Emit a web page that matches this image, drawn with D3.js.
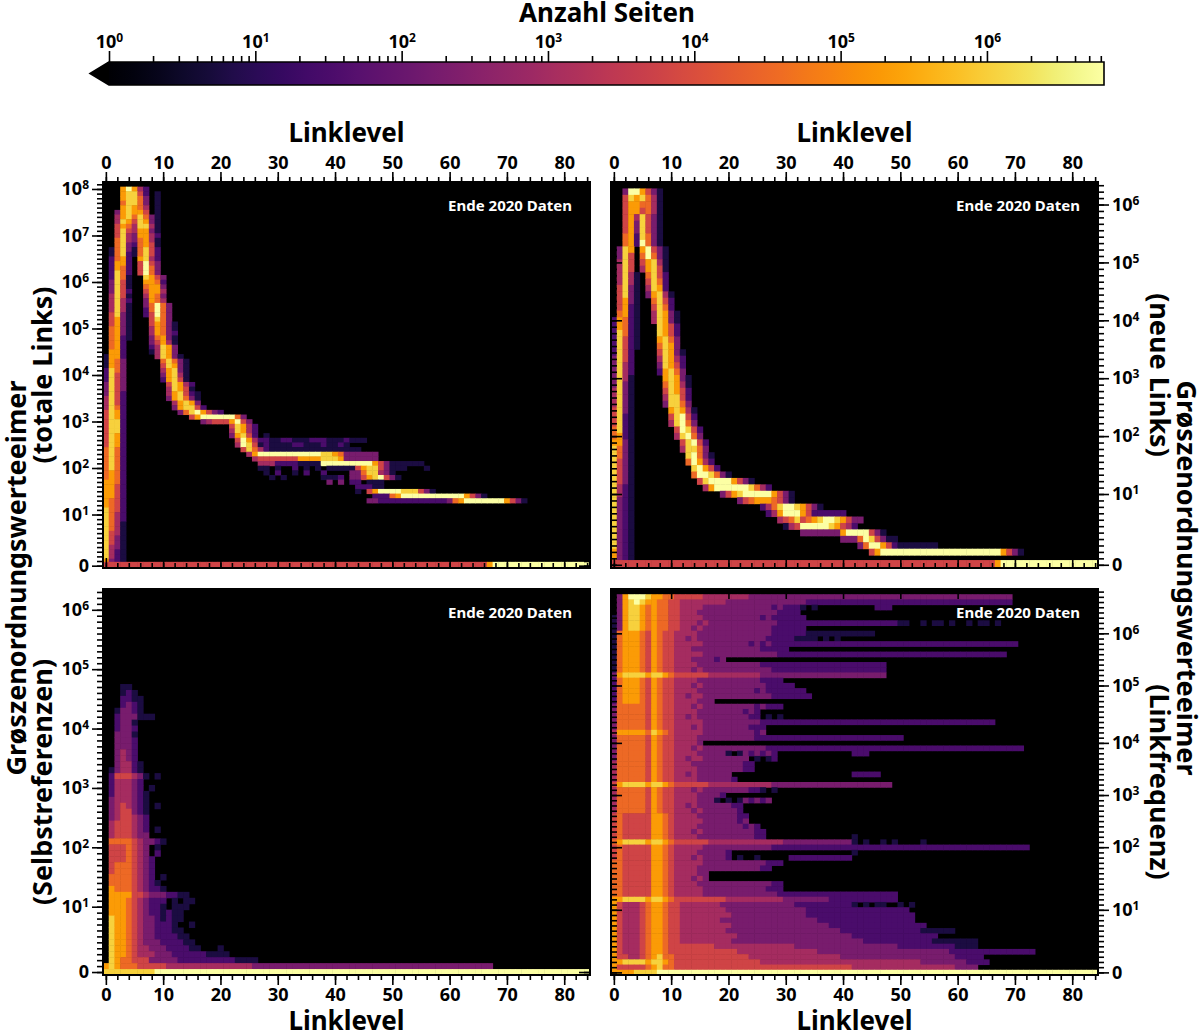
<!DOCTYPE html>
<html>
<head>
<meta charset="utf-8">
<script src="https://cdn.jsdelivr.net/npm/d3@7"></script>
<style>
  body { margin: 0; background: #fff; }
  svg text { font-family: "Noto Sans", "Open Sans", sans-serif; font-weight: 700; }
</style>
</head>
<body>
<svg id="chart" width="1201" height="1036"></svg>
<script>
// Each row string lists cells as "startColumn:levels", top row first.
// A level digit d stands for about 10^(d * 0.756) pages, "." is an empty cell,
// "d*n" is n cells of level d in a row.

const rowsTotal = [
  "",
  "3:79742",
  "3:78852 9:1",
  "3:78863 9:1",
  "3:68863 9:1",
  "3:78764 9:1",
  "2:378775 9:1",
  "2:47868631",
  "2:48758731",
  "2:57648841",
  "2:58547731",
  "2:58437742",
  "2:68436741",
  "2:68326751",
  "1:168316852",
  "1:168216852",
  "1:2672 6:7842",
  "1:2772 6:5953",
  "1:2762 6:5963",
  "1:2862 6:5963",
  "1:2861 7:8753",
  "1:3851 7:7762",
  "1:3851 7:6773",
  "1:3852 7:5774",
  "1:4851 7:4763",
  "1:4842 7:3764",
  "1:4841 7:36963",
  "1:4841 7:26963",
  "1:5831 7:25963",
  "1:5731 8:5863",
  "1:5731 8:57631",
  "1:6731 8:47631",
  "1:6731 8:47632",
  "1:6721 8:36731",
  "1:672 8:35741",
  "1:672 8:24873",
  "1:772 8:14873",
  "0:1772 9:48731",
  "0:1763 10:68631",
  "0:1763 10:58731",
  "0:2863 10:47831",
  "0:2853 10:37841",
  "0:2853 10:27851",
  "0:3853 11:58742",
  "0:3853 11:48751",
  "0:3852 11:478521",
  "0:4852 11:378631",
  "0:4852 12:47873",
  "0:4862 12:378852",
  "0:5872 13:36897532",
  "0:5872 15:5799999963",
  "0:5882 17:345557953",
  "0:5882 22:58742",
  "0:5882 22:48742",
  "0:5872 22:37852 28:1",
  "0:5872 23:5974 27:2211221112221112111",
  "0:5872 23:4985 27:1211112211121121",
  "0:6862 24:5864 28:21111111111111111",
  "0:6862 25:47 27:99999999999 38:8876 42:333333",
  "0:6862 26:4 27:5555555 34:7777 38:8887 42:333333",
  "0:6862 27:44422221111 38:999999999 47:753111111",
  "0:6862 27:11.1..2.1.1 39:11111 44:57885 49:3111 56:1",
  "0:6762 28:1.2..1.2 38:2 43:33688 48:431",
  "0:6762 29:1.1 38:1112.33 45:578953 51:1",
  "0:7762 39:3.3.22 46:111",
  "0:7752 44:22211",
  "0:7752 44:1.579999888 55:531",
  "0:7752 47:222 50:6799999999999 63:7531",
  "0:7652 46:33222222222222 60:36799999997531",
  "0:7652",
  "0:8652",
  "0:8642",
  "0:8642",
  "0:8641",
  "0:8641",
  "0:8541",
  "0:8531",
  "0:8531",
  "0:8431",
  "0:8421",
  "0:8421",
  "0:7321",
  "0:5*67 67:7 68:9*17"
];

const rowsNew = [
  "",
  "2:3997531",
  "2:5878641",
  "2:5776641",
  "2:5775641",
  "2:5748531",
  "2:5738531",
  "2:5738531",
  "2:6728631",
  "2:6729631",
  "1:387.79531",
  "1:385.69631",
  "1:485.57841",
  "1:485.47851",
  "1:4841.6852",
  "1:4841.5862",
  "1:5831.4872",
  "1:5831.37841",
  "1:5731..6852",
  "1:5721..5862",
  "1:6721..48731",
  "0:27621..48731",
  "0:27621...8752",
  "0:28621...8752",
  "0:28521...7863",
  "0:28521...6873",
  "0:2852....58731",
  "0:3852....48742",
  "0:3842....38752",
  "0:3842....27863",
  "0:3841.....78731",
  "0:3831.....68741",
  "0:4831.....58752",
  "0:4831.....48852",
  "0:4831.....38863",
  "0:5831......78741",
  "0:5821......58952",
  "0:5821......48963",
  "0:6821.......59852",
  "0:6721.......48963",
  "0:7731........58952",
  "0:8631........48863",
  "0:8631.........89631",
  "0:8531.........69742",
  "0:8531..........89752",
  "0:8531..........6998631",
  "0:8531...........5899997531",
  "0:8421 16:479999998642",
  "0:8421 19:3578999997531",
  "0:8321 22:3567776531",
  "0:8321 26:24689987531",
  "0:8321 27:24799975 35:222222",
  "0:8321 29:456856789987533",
  "0:8321 30:1459999987542",
  "0:8321 33:3333333 40:79999531",
  "0:8321 40:3336985311",
  "0:8321 43:3699752 50:1111111",
  "0:7321 45:57 47:9*21 68:7531",
  "0:7321",
  "0:5*67 67:7 68:9*17"
];

const rowsSelf = [
  "", "", "", "", "", "", "", "", "", "", "", "", "", "", "", "",
  "3:11",
  "3:121",
  "3:2211",
  "3:2321",
  "2:13321",
  "2:2333111",
  "2:2331",
  "2:2332",
  "2:3331",
  "2:3332",
  "2:3332",
  "2:3432",
  "2:3432",
  "2:3442 6:1",
  "1:134421",
  "1:2555431 9:1",
  "1:244432",
  "1:244432 8:1",
  "1:2444321",
  "1:3444321",
  "1:3454321 9:1",
  "1:3455321",
  "1:3455432",
  "1:4555432",
  "1:4555432 9:1",
  "1:4555433",
  "1:6666543321",
  "1:5556543 9:1",
  "1:5556543 9:2",
  "1:55565432",
  "1:56665432",
  "1:56665432",
  "1:66665432 10:1",
  "1:666654321",
  "1:7666543221",
  "1:77775543332211",
  "1:7776543222 12:1.11",
  "1:7776543221.111",
  "1:7776543221211",
  "1:8776543321211",
  "1:877654332221 15:1",
  "1:8776543322211",
  "1:87765433222211",
  "1:877654333222211",
  "1:8776544333222211 20:1",
  "1:877654443332222221111",
  "1:87665553333322222222221111",
  "0:78766655555 11:4*15 26:3*42",
  "0:8*9 9:9*76"
];

const rowsFreq = [
  "",
  "0:.37999877665 12:5*4 16:4*8 24:3*46",
  "0:.37898776655 12:4*8 20:3*14 34:2*36",
  "0:.37887676655 12:44443 17:3*10 27:323 30:222 33:1.1 46:222",
  "0:.37887676655 12:44433 17:3*11 28:32222",
  "0:137887676655 12:44443 17:3*8 25:3232 29:22222",
  "0:137887676655 12:44434 17:3*12 29:2*21 50:11 54:1.11.1..1.11.1",
  "0:137887676655 12:44343 17:3*9 26:33 28:2*6",
  "0:167776576554 12:44433 17:3*11 28:2*6 34:1*12",
  "0:167776576554 12:43433 17:3*10 27:22222 32:1*4 37:1.1",
  "0:167776576554 12:44443 17:3*7 24:2323 28:2*43",
  "0:167776576554 12:44333 17:3*8 25:322222",
  "0:167776576554 12:44443 17:3*12 29:2*40",
  "0:167776576554 12:44333 17:323",
  "0:167776576554 12:44433 17:3*9 26:2*22",
  "0:167776576554 12:44343 17:3*11 28:2*20",
  "0:378888788765 12:5*5 17:4*9 26:3*22",
  "0:267776576554 12:44433 17:3*8 25:32222",
  "0:267776576554 12:44343 17:3*10 27:22222",
  "0:267776576554 12:44433 17:3*7 24:3232222222",
  "0:267776576554 12:43443 17:3*11 28:2*7",
  "0:267776576554 12:44433 17:3",
  "0:366666576554 12:44343 17:3*7 24:323222",
  "0:366666576554 12:44433 17:3*6 23:232",
  "0:366666576554 12:43433 17:3*7 24:22 27:1.1",
  "0:366666576554 12:44443 17:3*9 26:2*41",
  "0:366666576554 12:44343 17:3*6 23:3222",
  "0:477777687654 12:44443 17:3*7 24:323",
  "0:366666576554 12:44433 17:3*8 25:2*26",
  "0:366666576554 12:4443",
  "0:366666576554 12:44343 17:3*10 27:2*45",
  "0:366666576554 12:44433 17:333 20:1.1 23:323232 42:222",
  "0:366666576554 12:43443 17:3*7 24:.1.1 28:2",
  "0:466666576554 12:44333 17:3*6 23:22",
  "0:466666576554 12:44433 17:3*5 22:322",
  "0:466666576554 12:43433 17:3333 42:2*5",
  "0:466666576554 12:44433 17:33332",
  "0:578888788765 12:5*5 17:4*11 28:3*21",
  "0:466666576554 12:44343 17:3*7 24:22 26:1.1",
  "0:466666576554 12:44433 17:332",
  "0:466666576554 12:44433 17:3 18:1.1.1 23:32323",
  "0:466666576554 12:43433 17:3*4 21:22",
  "0:466666576554 12:44343 17:3*5 22:2",
  "0:565555577654 12:44433 17:3*5 22:22",
  "0:565555577654 12:44443 17:3*4 21:323",
  "0:565555577654 12:44433 17:3*6 23:232",
  "0:565555577654 12:44343 17:3*7 24:322",
  "0:565555577654 12:44433 17:3*8 25:22 42:1",
  "0:678888788765 12:5*5 17:4*13 30:3*12 42:1.1..1 49:1....1",
  "0:565555577654 12:44443 17:3*11 28:2*45",
  "0:565555577654 12:44433 17:3332 42:1",
  "0:565555577654 12:44343 17:3332 22:1..1 31:2*11",
  "0:665555577654 12:44443 17:3*10 27:222",
  "0:665555577654 12:44433 17:3*9 26:22",
  "0:665555577654 12:44433",
  "0:665555577654 12:44343",
  "0:665555577654 12:44433 17:3*10 27:322",
  "0:665555577654 12:44443 17:3*9 26:3222",
  "0:665555577654 12:44443 17:3*12 29:2*21",
  "0:778888788765 12:5*8 20:4*10 30:3*8 38:2*12",
  "0:754445677655 12:4*7 19:3*13 32:2*10 42:1.1.11..1.1",
  "0:754445677655 12:4*8 20:3*14 34:2*18",
  "0:754445677655 12:4*9 21:3*13 34:2*19",
  "0:754445677655 12:4*7 19:3*17 36:2*17",
  "0:754445677655 12:4*9 21:3*17 38:2*17",
  "0:754445677655 12:4*8 20:3*20 40:2*14 54:1*6",
  "0:754445677655 12:4*10 22:3*20 42:2*15",
  "0:754445677655 12:4*9 21:3*23 44:2*12 56:1*8",
  "0:754445677655 12:5*6 18:4*14 32:3*18 50:2*10 60:1*4",
  "0:754445677655 12:5*10 22:4*14 36:3*23 59:2*15",
  "0:755445678665 12:5*12 24:4*16 40:3*20 60:2*5",
  "0:778888788765 12:5*14 26:4*28 54:3*8 62:2*4",
  "0:755555678665 12:5*30 42:4*18 60:3*4",
  "0:77778888 8:9*77"
];

// y tick rows and their powers of ten ("" = the 0 bucket)
const totalTickRows = [0, 11, 21, 31, 41, 51, 61, 71, 81];
const totalTickExp = ["", "1", "2", "3", "4", "5", "6", "7", "8"];
const newTickRows = [0, 11, 20, 29, 38, 47, 56];
const newTickExp = ["", "1", "2", "3", "4", "5", "6"];
const selfTickRows = [0, 11, 21, 31, 41, 51, 61];
const selfTickExp = ["", "1", "2", "3", "4", "5", "6"];
const freqTickRows = [0, 12, 24, 34, 44, 55, 65];
const freqTickExp = ["", "1", "2", "3", "4", "5", "6"];

const xTickValues = [0, 10, 20, 30, 40, 50, 60, 70, 80];
const cbTickExp = [0, 1, 2, 3, 4, 5, 6];

const FONT = '"Noto Sans", "Open Sans", sans-serif';
const LOG_STEP = 6.8 / 9;
const CB_MAX = Math.pow(10, 6.8);
const color = d3.scaleSequentialLog(d3.interpolateInferno).domain([1, CB_MAX]);

const svg = d3.select("#chart");

function parseRows(rows) {
  const cells = [];
  rows.forEach((str, i) => {
    const row = rows.length - 1 - i;
    str.split(" ").filter(s => s).forEach(seg => {
      const [start, body] = seg.split(":");
      let c = +start;
      if (body.includes("*")) {
        const [lv, n] = body.split("*");
        for (let k = 0; k < +n; k++) cells.push({ row, col: c + k, level: +lv });
      } else {
        for (const ch of body) {
          if (ch !== ".") cells.push({ row, col: c, level: +ch });
          c++;
        }
      }
    });
  });
  return cells;
}

function styleAxis(g, size) {
  g.select(".domain").remove();
  g.attr("font-family", null).attr("font-size", null);
  g.selectAll(".tick line").attr("stroke", "#000").attr("stroke-width", 1.6);
  g.selectAll(".tick text")
    .attr("fill", "#000")
    .style("font-size", size + "px")
    .style("font-weight", 700)
    .style("font-family", FONT);
}

function powerLabels(g, expOf, size) {
  g.selectAll(".tick text").each(function(d) {
    const t = d3.select(this);
    const e = expOf(d);
    t.text(null);
    if (e === "") { t.text("0"); return; }
    t.append("tspan").text("10");
    t.append("tspan").attr("dy", "-0.5em").style("font-size", Math.round(size * 0.68) + "px").text(e);
  });
}

// ---- colour bar ----
const cbX = d3.scaleLog().domain([1, CB_MAX]).range([109, 1104]);
const cbTop = 62, cbBot = 85;
const cbOutline = `M${cbX(1)},${cbTop} L90,${(cbTop + cbBot) / 2} L${cbX(1)},${cbBot} L${cbX(CB_MAX)},${cbBot} L${cbX(CB_MAX)},${cbTop} Z`;
const grad = svg.append("defs").append("linearGradient").attr("id", "cbgrad");
for (let i = 0; i <= 40; i++) {
  grad.append("stop").attr("offset", (i / 40 * 100) + "%").attr("stop-color", d3.interpolateInferno(i / 40));
}
svg.append("path").attr("d", cbOutline).attr("fill", "#000");
svg.append("rect")
  .attr("x", cbX(1)).attr("y", cbTop)
  .attr("width", cbX(CB_MAX) - cbX(1)).attr("height", cbBot - cbTop)
  .attr("fill", "url(#cbgrad)");
svg.append("path").attr("d", cbOutline)
  .attr("fill", "none").attr("stroke", "#000").attr("stroke-width", 1.6);

const cbMinor = [];
cbTickExp.forEach(e => { for (let m = 2; m <= 9; m++) { const v = m * Math.pow(10, e); if (v < CB_MAX) cbMinor.push(v); } });
const cbMinorG = svg.append("g").attr("transform", `translate(0,${cbTop})`)
  .call(d3.axisTop(cbX).tickValues(cbMinor).tickSize(6).tickFormat(""));
styleAxis(cbMinorG, 18);
const cbMajorG = svg.append("g").attr("transform", `translate(0,${cbTop})`)
  .call(d3.axisTop(cbX).tickValues(cbTickExp.map(e => Math.pow(10, e))).tickSize(11).tickPadding(3));
styleAxis(cbMajorG, 18);
powerLabels(cbMajorG, d => String(Math.round(Math.log10(d))), 18);

svg.append("text").attr("x", 607).attr("y", 22).attr("text-anchor", "middle")
  .style("font-size", "26px").text("Anzahl Seiten");

// ---- heatmap panels ----
const panels = [
  { rows: rowsTotal, tickRows: totalTickRows, tickExp: totalTickExp, x0: 103, x1: 590, y0: 182, y1: 568, ySide: "left", xSide: "top", edgeRow: true },
  { rows: rowsNew, tickRows: newTickRows, tickExp: newTickExp, x0: 611, x1: 1098, y0: 182, y1: 568, ySide: "right", xSide: "top", edgeRow: true },
  { rows: rowsSelf, tickRows: selfTickRows, tickExp: selfTickExp, x0: 103, x1: 590, y0: 589, y1: 975, ySide: "left", xSide: "bottom", edgeRow: false },
  { rows: rowsFreq, tickRows: freqTickRows, tickExp: freqTickExp, x0: 611, x1: 1098, y0: 589, y1: 975, ySide: "right", xSide: "bottom", edgeRow: false }
];

panels.forEach((p, pi) => {
  const n = p.rows.length;
  const x = d3.scaleLinear().domain([-0.5, 84.5]).range([p.x0, p.x1]);
  const y = d3.scaleLinear().domain([-0.5, n - 0.5]).range([p.y1, p.y0]);
  const cw = x(1) - x(0), rh = y(0) - y(1);
  const g = svg.append("g");

  g.append("clipPath").attr("id", "clip" + pi).append("rect")
    .attr("x", p.x0).attr("y", p.y0).attr("width", p.x1 - p.x0).attr("height", p.y1 - p.y0);
  g.append("rect")
    .attr("x", p.x0).attr("y", p.y0).attr("width", p.x1 - p.x0).attr("height", p.y1 - p.y0)
    .attr("fill", "#000");

  // the 0 bucket of the upper panels reads a little taller
  const edge = d => p.edgeRow && d.row === 0;
  g.append("g").attr("clip-path", `url(#clip${pi})`)
    .selectAll("rect")
    .data(parseRows(p.rows))
    .join("rect")
    .attr("x", d => x(d.col - 0.5))
    .attr("y", d => edge(d) ? y(0.5) - 1.5 : y(d.row + 0.5))
    .attr("width", cw + 0.5)
    .attr("height", d => edge(d) ? rh + 2 : rh + 0.5)
    .attr("fill", d => color(Math.pow(10, d.level * LOG_STEP)));

  const xMinor = d3.range(0, 85, 2);
  const yMinor = d3.range(n);
  const tickMap = new Map(p.tickRows.map((r, i) => [r, p.tickExp[i]]));

  // x axes: labelled side outward, opposite side inward
  const xOut = p.xSide === "top" ? d3.axisTop : d3.axisBottom;
  const xOutY = p.xSide === "top" ? p.y0 : p.y1;
  const xInY = p.xSide === "top" ? p.y1 : p.y0;
  [[xMinor, 5, false], [xTickValues, 10, true]].forEach(([vals, size, lab]) => {
    const a = g.append("g").attr("transform", `translate(0,${xOutY})`)
      .call(xOut(x).tickValues(vals).tickSize(size).tickPadding(3).tickFormat(lab ? d3.format("d") : ""));
    styleAxis(a, 18);
    const b = g.append("g").attr("transform", `translate(0,${xInY})`)
      .call(xOut(x).tickValues(vals).tickSize(size).tickFormat(""));
    styleAxis(b, 18);
  });

  // y axes
  const yOut = p.ySide === "left" ? d3.axisLeft : d3.axisRight;
  const yOutX = p.ySide === "left" ? p.x0 : p.x1;
  const yInX = p.ySide === "left" ? p.x1 : p.x0;
  [[yMinor, 6, false], [p.tickRows, 11, true]].forEach(([vals, size, lab]) => {
    const a = g.append("g").attr("transform", `translate(${yOutX},0)`)
      .call(yOut(y).tickValues(vals).tickSize(size).tickPadding(3).tickFormat(lab ? null : ""));
    styleAxis(a, 18);
    if (lab) powerLabels(a, d => tickMap.get(d), 18);
    const b = g.append("g").attr("transform", `translate(${yInX},0)`)
      .call(yOut(y).tickValues(vals).tickSize(size).tickFormat(""));
    styleAxis(b, 18);
  });

  g.append("rect")
    .attr("x", p.x0).attr("y", p.y0).attr("width", p.x1 - p.x0).attr("height", p.y1 - p.y0)
    .attr("fill", "none").attr("stroke", "#000").attr("stroke-width", 2);

  g.append("text")
    .attr("x", p.x1 - 18).attr("y", p.y0 + 29)
    .attr("text-anchor", "end").attr("fill", "#fff")
    .style("font-size", "15px")
    .text("Ende 2020 Daten");

  g.append("text")
    .attr("x", (p.x0 + p.x1) / 2)
    .attr("y", p.xSide === "top" ? 142 : 1030)
    .attr("text-anchor", "middle")
    .style("font-size", "26px")
    .text("Linklevel");
});

// side titles
function sideText(x, y, angle, txt) {
  svg.append("text")
    .attr("transform", `translate(${x},${y}) rotate(${angle})`)
    .attr("text-anchor", "middle")
    .style("font-size", "27px")
    .text(txt);
}
sideText(26, 578, -90, "Grøszenordnungswerteeimer");
sideText(52, 375, -90, "(totale Links)");
sideText(52, 782, -90, "(Selbstreferenzen)");
sideText(1177, 578, 90, "Grøszenordnungswerteeimer");
sideText(1150, 375, 90, "(neue Links)");
sideText(1150, 782, 90, "(Linkfrequenz)");
</script>
</body>
</html>
